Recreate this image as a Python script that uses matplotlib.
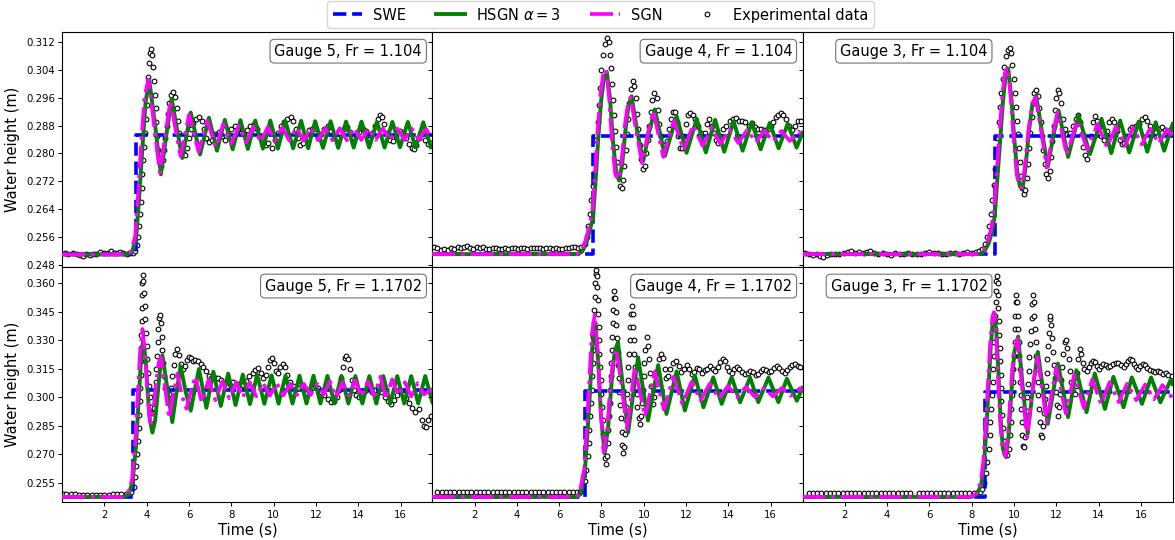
import matplotlib
matplotlib.use("Agg")
import matplotlib.pyplot as plt

plt.rcParams['font.family'] = ['DejaVu Sans']

# ---------------- data ----------------
panel_titles = ["Gauge 5, Fr = 1.104", "Gauge 4, Fr = 1.104", "Gauge 3, Fr = 1.104",
                "Gauge 5, Fr = 1.1702", "Gauge 4, Fr = 1.1702", "Gauge 3, Fr = 1.1702"]
x_ticks = [2, 4, 6, 8, 10, 12, 14, 16]
y_ticks_top = [0.248, 0.256, 0.264, 0.272, 0.280, 0.288, 0.296, 0.304, 0.312]
y_ticks_bottom = [0.255, 0.270, 0.285, 0.300, 0.315, 0.330, 0.345, 0.360]
t_end = 17.5

swe_step_time = [3.5, 7.6, 9.1, 3.36, 7.21, 8.63]
swe_h_before = [0.2509, 0.2510, 0.2510, 0.2477, 0.2477, 0.2477]
swe_h_after = [0.2853, 0.2851, 0.2849, 0.3040, 0.3033, 0.3030]

# ---- Gauge 5, Fr = 1.104 ----
g5a_hsgn = [(0.0,0.2509),(3.0,0.2509),(3.3,0.2516),(3.5,0.2555),(3.65,0.2680),(3.8,0.2820),(3.95,0.2950),(4.12,0.3012),
            (4.4,0.2880),(4.67,0.2740),(4.92,0.2850),(5.18,0.2958),(5.43,0.2870),(5.68,0.2787),(6.08,0.2918),(6.52,0.2797),
            (6.94,0.2903),(7.32,0.2808),(7.69,0.2897),(8.06,0.2812),(8.43,0.2896),(8.78,0.2813),(9.13,0.2895),(9.49,0.2814),
            (9.84,0.2895),(10.2,0.2814),(10.55,0.2894),(10.92,0.2815),(11.3,0.2894),(11.63,0.2815),(11.96,0.2893),(12.33,0.2816),
            (12.69,0.2893),(13.05,0.2816),(13.42,0.2892),(13.78,0.2817),(14.15,0.2892),(14.51,0.2817),(14.88,0.2891),(15.24,0.2817),
            (15.61,0.2891),(15.97,0.2818),(16.34,0.2891),(16.7,0.2818),(17.07,0.2890),(17.43,0.2818)]
g5a_sgn = [(0.0,0.2509),(2.95,0.2509),(3.25,0.2517),(3.45,0.2560),(3.6,0.2690),(3.75,0.2840),(3.9,0.2965),(4.08,0.3014),
           (4.35,0.2880),(4.62,0.2745),(4.87,0.2850),(5.12,0.2952),(5.36,0.2870),(5.6,0.2792),(6.0,0.2912),(6.45,0.2805),
           (6.86,0.2895),(7.26,0.2818),(7.62,0.2885),(8.0,0.2828),(8.35,0.2880),(8.7,0.2832),(9.04,0.2877),(9.38,0.2834),
           (9.72,0.2876),(10.06,0.2836),(10.4,0.2875),(10.74,0.2837),(11.08,0.2874),(11.42,0.2837),(11.76,0.2874),(12.1,0.2838),
           (12.44,0.2873),(12.78,0.2838),(13.12,0.2873),(13.46,0.2838),(13.8,0.2873),(14.14,0.2839),(14.48,0.2872),(14.82,0.2839),
           (15.16,0.2872),(15.5,0.2839),(15.84,0.2872),(16.18,0.2839),(16.52,0.2872),(16.86,0.2840),(17.2,0.2871),(17.45,0.2845)]
g5a_exp = [(0.12,0.2512),(0.3,0.2511),(0.5,0.2513),(0.7,0.2511),(0.85,0.2508),(0.98,0.2505),(1.15,0.2510),(1.3,0.2507),
           (1.45,0.2510),(1.6,0.2511),(1.8,0.2515),(2.0,0.2513),(2.15,0.2513),(2.3,0.2518),(2.45,0.2514),(2.6,0.2514),
           (2.75,0.2517),(2.9,0.2513),(3.05,0.2511),(3.2,0.2512),(3.35,0.2514),
           (3.45,0.2520),(3.52,0.2535),(3.58,0.2560),(3.63,0.2590),(3.68,0.2625),(3.72,0.2660),(3.76,0.2700),(3.80,0.2740),
           (3.84,0.2780),(3.88,0.2820),(3.92,0.2860),(3.96,0.2900),(4.00,0.2940),(4.04,0.2980),(4.08,0.3020),(4.12,0.3060),
           (4.16,0.3090),(4.21,0.3101),(4.26,0.3085),(4.30,0.3050),(4.34,0.3010),(4.38,0.2970),(4.42,0.2930),(4.46,0.2890),
           (4.50,0.2850),(4.55,0.2810),(4.61,0.2780),(4.68,0.2764),(4.76,0.2780),(4.82,0.2810),(4.88,0.2845),(4.94,0.2880),
           (5.00,0.2915),(5.07,0.2945),(5.15,0.2968),(5.25,0.2976),(5.34,0.2962),(5.41,0.2930),(5.47,0.2895),(5.53,0.2860),
           (5.60,0.2825),(5.70,0.2800),(5.82,0.2795),(5.92,0.2815),(6.0,0.2845),(6.1,0.2870),(6.2,0.2888),(6.33,0.2900),
           (6.47,0.2905),(6.6,0.2895),(6.72,0.2870),(6.82,0.2845),(6.95,0.2832),(7.1,0.2840),(7.25,0.2855),(7.4,0.2862),
           (7.55,0.2850),(7.7,0.2840),(7.85,0.2855),(8.0,0.2870),(8.15,0.2878),(8.3,0.2872),(8.45,0.2860),(8.6,0.2855),
           (8.75,0.2868),(8.9,0.2880),(9.05,0.2885),(9.2,0.2872),(9.35,0.2850),(9.5,0.2835),(9.62,0.2825),(9.75,0.2830),
           (9.9,0.2815),(10.05,0.2838),(10.2,0.2860),(10.35,0.2880),(10.5,0.2890),(10.65,0.2898),(10.8,0.2905),(10.92,0.2895),
           (11.05,0.2870),(11.15,0.2845),(11.25,0.2825),(11.38,0.2830),(11.5,0.2850),(11.65,0.2868),(11.8,0.2872),(11.95,0.2860),
           (12.1,0.2848),(12.25,0.2855),(12.4,0.2870),(12.55,0.2878),(12.7,0.2866),(12.85,0.2850),(13.0,0.2845),(13.15,0.2858),
           (13.3,0.2872),(13.45,0.2875),(13.6,0.2862),(13.75,0.2848),(13.9,0.2850),(14.05,0.2862),(14.2,0.2870),(14.35,0.2865),
           (14.5,0.2852),(14.65,0.2858),(14.8,0.2880),(14.92,0.2900),(15.02,0.2912),(15.12,0.2905),(15.22,0.2885),(15.35,0.2860),
           (15.5,0.2840),(15.65,0.2835),(15.8,0.2850),(15.95,0.2865),(16.1,0.2860),(16.25,0.2845),(16.4,0.2828),(16.52,0.2815),
           (16.62,0.2812),(16.72,0.2825),(16.85,0.2845),(17.0,0.2855),(17.15,0.2840),(17.3,0.2828),(17.42,0.2830)]

# ---- Gauge 4, Fr = 1.104 ----
g4a_hsgn = [(0.0,0.2510),(6.9,0.2510),(7.1,0.2518),(7.3,0.2545),(7.45,0.2580),(7.6,0.2614),(7.72,0.2720),(7.84,0.2837),
            (7.98,0.2950),(8.1,0.3010),(8.25,0.3035),(8.4,0.2960),(8.55,0.2830),(8.7,0.2745),(8.83,0.2722),(8.98,0.2770),
            (9.12,0.2860),(9.27,0.2935),(9.42,0.2965),(9.7,0.2860),(9.97,0.2778),(10.25,0.2860),(10.52,0.2927),(11.0,0.2793),
            (11.55,0.2908),(12.02,0.2802),(12.5,0.2900),(12.93,0.2803),(13.37,0.2897),(13.8,0.2805),(14.24,0.2893),(14.67,0.2808),
            (15.1,0.2890),(15.52,0.2812),(15.95,0.2888),(16.37,0.2815),(16.8,0.2886),(17.22,0.2817),(17.5,0.2860)]
g4a_sgn = [(0.0,0.2510),(6.85,0.2510),(7.05,0.2520),(7.25,0.2550),(7.42,0.2590),(7.58,0.2640),(7.7,0.2750),(7.82,0.2870),
           (7.95,0.2970),(8.08,0.3030),(8.22,0.3042),(8.36,0.2960),(8.5,0.2830),(8.65,0.2740),(8.8,0.2725),(8.95,0.2780),
           (9.1,0.2880),(9.25,0.2945),(9.38,0.2962),(9.65,0.2860),(9.92,0.2772),(10.2,0.2860),(10.45,0.2922),(10.92,0.2790),
           (11.42,0.2895),(11.88,0.2810),(12.33,0.2882),(12.78,0.2822),(13.2,0.2875),(13.62,0.2828),(14.05,0.2870),(14.47,0.2830),
           (14.88,0.2868),(15.3,0.2833),(15.7,0.2866),(16.1,0.2835),(16.5,0.2865),(16.9,0.2836),(17.3,0.2864),(17.5,0.2850)]
g4a_exp = [(0.1,0.2530),(0.25,0.2527),(0.4,0.2522),(0.55,0.2525),(0.75,0.2522),(0.9,0.2528),(1.05,0.2524),(1.2,0.2530),
           (1.35,0.2527),(1.5,0.2530),(1.65,0.2533),(1.8,0.2528),(1.95,0.2526),(2.1,0.2530),(2.25,0.2527),(2.4,0.2531),
           (2.55,0.2526),(2.7,0.2524),(2.85,0.2527),(3.0,0.2529),(3.15,0.2524),(3.3,0.2526),(3.45,0.2527),(3.6,0.2526),
           (3.75,0.2528),(3.9,0.2527),(4.05,0.2526),(4.2,0.2528),(4.35,0.2527),(4.5,0.2524),(4.65,0.2528),(4.8,0.2528),
           (4.95,0.2527),(5.1,0.2528),(5.25,0.2526),(5.4,0.2527),(5.55,0.2528),(5.7,0.2526),(5.85,0.2527),(6.0,0.2524),
           (6.15,0.2525),(6.3,0.2529),(6.45,0.2528),(6.6,0.2530),(6.75,0.2530),(6.9,0.2528),(7.05,0.2530),
           (7.2,0.2540),(7.3,0.2560),(7.38,0.2590),(7.45,0.2625),(7.52,0.2665),(7.58,0.2705),(7.64,0.2745),(7.7,0.2790),
           (7.76,0.2840),(7.82,0.2890),(7.88,0.2940),(7.94,0.2990),(8.0,0.3040),(8.07,0.3085),(8.15,0.3115),(8.25,0.3132),
           (8.34,0.3120),(8.4,0.3085),(8.45,0.3045),(8.5,0.3000),(8.55,0.2955),(8.6,0.2910),(8.65,0.2865),(8.7,0.2820),
           (8.75,0.2775),(8.8,0.2735),(8.87,0.2705),(8.95,0.2700),(9.02,0.2725),(9.08,0.2765),(9.14,0.2810),(9.2,0.2855),
           (9.26,0.2900),(9.32,0.2945),(9.39,0.2985),(9.47,0.3009),(9.56,0.2995),(9.62,0.2960),(9.68,0.2915),(9.74,0.2870),
           (9.8,0.2825),(9.87,0.2785),(9.96,0.2755),(10.05,0.2765),(10.12,0.2800),(10.18,0.2840),(10.25,0.2880),(10.33,0.2920),
           (10.41,0.2955),(10.5,0.2975),(10.6,0.2960),(10.67,0.2925),(10.74,0.2885),(10.81,0.2850),(10.9,0.2825),(11.0,0.2815),
           (11.1,0.2835),(11.18,0.2870),(11.27,0.2900),(11.37,0.2920),(11.47,0.2920),(11.56,0.2890),(11.63,0.2850),(11.7,0.2815),
           (11.8,0.2815),(11.9,0.2850),(12.0,0.2885),(12.1,0.2910),(12.2,0.2918),(12.32,0.2912),(12.44,0.2900),(12.56,0.2880),
           (12.68,0.2860),(12.8,0.2845),(12.9,0.2860),(13.0,0.2885),(13.1,0.2900),(13.2,0.2880),(13.3,0.2858),(13.4,0.2840),
           (13.5,0.2830),(13.62,0.2850),(13.75,0.2870),(13.9,0.2880),(14.05,0.2895),(14.2,0.2898),(14.35,0.2903),(14.5,0.2895),
           (14.65,0.2893),(14.8,0.2890),(14.95,0.2880),(15.1,0.2888),(15.25,0.2875),(15.4,0.2870),(15.55,0.2872),(15.7,0.2868),
           (15.85,0.2872),(16.0,0.2880),(16.12,0.2892),(16.24,0.2905),(16.36,0.2912),(16.48,0.2918),(16.6,0.2912),(16.72,0.2898),
           (16.85,0.2878),(17.0,0.2868),(17.15,0.2880),(17.3,0.2895),(17.42,0.2893)]

# ---- Gauge 3, Fr = 1.104 ----
g3a_hsgn = [(0.0,0.2510),(8.4,0.2510),(8.6,0.2518),(8.8,0.2540),(8.97,0.2575),(9.1,0.2624),(9.22,0.2730),(9.35,0.2837),
            (9.48,0.2950),(9.6,0.3020),(9.73,0.3045),(9.88,0.2960),(10.02,0.2840),(10.15,0.2750),(10.28,0.2705),(10.41,0.2700),
            (10.55,0.2760),(10.7,0.2860),(10.87,0.2940),(11.05,0.2967),(11.33,0.2860),(11.6,0.2762),(11.86,0.2850),(12.11,0.2924),
            (12.56,0.2790),(13.06,0.2909),(13.59,0.2798),(14.14,0.2900),(14.6,0.2801),(15.02,0.2895),(15.45,0.2803),(15.89,0.2892),
            (16.3,0.2805),(16.7,0.2890),(17.1,0.2808),(17.5,0.2885)]
g3a_sgn = [(0.0,0.2510),(8.35,0.2510),(8.55,0.2520),(8.75,0.2545),(8.93,0.2585),(9.07,0.2650),(9.2,0.2760),(9.33,0.2870),
           (9.46,0.2975),(9.58,0.3035),(9.7,0.3048),(9.85,0.2960),(10.0,0.2830),(10.13,0.2740),(10.26,0.2705),(10.38,0.2702),
           (10.52,0.2765),(10.68,0.2865),(10.85,0.2940),(11.02,0.2962),(11.3,0.2860),(11.55,0.2759),(11.82,0.2850),(12.06,0.2920),
           (12.5,0.2795),(12.98,0.2895),(13.48,0.2810),(13.95,0.2885),(14.4,0.2818),(14.82,0.2878),(15.24,0.2822),(15.64,0.2875),
           (16.04,0.2826),(16.44,0.2872),(16.84,0.2829),(17.24,0.2870),(17.5,0.2850)]
g3a_exp = [(0.12,0.2512),(0.3,0.2510),(0.5,0.2508),(0.7,0.2510),(0.85,0.2506),(0.97,0.2503),(1.15,0.2508),(1.35,0.2510),
           (1.55,0.2511),(1.75,0.2509),(1.95,0.2512),(2.15,0.2515),(2.3,0.2518),(2.5,0.2513),(2.7,0.2515),(2.9,0.2512),
           (3.05,0.2516),(3.2,0.2518),(3.4,0.2513),(3.6,0.2510),(3.8,0.2512),(4.0,0.2510),(4.2,0.2508),(4.4,0.2512),
           (4.6,0.2511),(4.8,0.2509),(5.0,0.2512),(5.2,0.2510),(5.4,0.2511),(5.6,0.2509),(5.8,0.2513),(6.0,0.2516),
           (6.2,0.2512),(6.4,0.2512),(6.6,0.2511),(6.8,0.2510),(7.0,0.2512),(7.2,0.2513),(7.4,0.2510),(7.6,0.2512),
           (7.8,0.2515),(8.0,0.2512),(8.2,0.2516),(8.35,0.2518),
           (8.5,0.2525),(8.62,0.2540),(8.72,0.2560),(8.82,0.2590),(8.9,0.2625),(8.97,0.2665),(9.04,0.2710),(9.1,0.2755),
           (9.16,0.2800),(9.22,0.2845),(9.28,0.2890),(9.34,0.2935),(9.4,0.2975),(9.47,0.3015),(9.54,0.3050),(9.62,0.3080),
           (9.7,0.3098),(9.8,0.3104),(9.88,0.3090),(9.93,0.3055),(9.98,0.3015),(10.03,0.2975),(10.08,0.2935),(10.13,0.2895),
           (10.18,0.2855),(10.23,0.2815),(10.28,0.2775),(10.33,0.2735),(10.39,0.2700),(10.46,0.2682),(10.54,0.2695),(10.6,0.2730),
           (10.66,0.2770),(10.72,0.2815),(10.78,0.2860),(10.84,0.2905),(10.9,0.2945),(10.97,0.2975),(11.05,0.2982),(11.14,0.2965),
           (11.2,0.2930),(11.26,0.2890),(11.32,0.2850),(11.38,0.2810),(11.45,0.2770),(11.53,0.2740),(11.62,0.2730),(11.7,0.2750),
           (11.76,0.2790),(11.82,0.2835),(11.88,0.2880),(11.94,0.2925),(12.0,0.2960),(12.07,0.2982),(12.15,0.2975),(12.21,0.2945),
           (12.3,0.2900),(12.4,0.2870),(12.52,0.2855),(12.65,0.2860),(12.78,0.2880),(12.92,0.2900),(13.03,0.2910),(13.12,0.2890),
           (13.2,0.2855),(13.28,0.2820),(13.36,0.2795),(13.45,0.2785),(13.55,0.2810),(13.63,0.2850),(13.72,0.2890),(13.82,0.2908),
           (13.93,0.2895),(14.03,0.2875),(14.13,0.2850),(14.25,0.2840),(14.38,0.2865),(14.5,0.2890),(14.62,0.2900),(14.75,0.2890),
           (14.87,0.2865),(15.0,0.2840),(15.12,0.2828),(15.22,0.2830),(15.35,0.2850),(15.48,0.2870),(15.6,0.2875),(15.75,0.2878),
           (15.9,0.2885),(16.05,0.2898),(16.18,0.2904),(16.3,0.2895),(16.42,0.2878),(16.55,0.2868),(16.7,0.2863),(16.85,0.2870),
           (17.0,0.2875),(17.15,0.2868),(17.3,0.2865),(17.42,0.2870)]

# ---- Gauge 5, Fr = 1.1702 ----
g5b_hsgn = [(0.0,0.2477),(2.9,0.2477),(3.15,0.2490),(3.33,0.2556),(3.49,0.2739),(3.62,0.2984),(3.72,0.3180),(3.83,0.3300),
            (3.95,0.3200),(4.05,0.3020),(4.15,0.2880),(4.27,0.2815),(4.4,0.2880),(4.52,0.3020),(4.63,0.3150),(4.74,0.3222),
            (4.97,0.3050),(5.21,0.2870),(5.4,0.3020),(5.6,0.3165),(5.84,0.3030),(6.08,0.2930),(6.27,0.3040),(6.47,0.3150),
            (6.82,0.2945),(7.15,0.3135),(7.5,0.2955),(7.85,0.3125),(8.2,0.2960),(8.54,0.3120),(8.88,0.2965),(9.22,0.3118),
            (9.56,0.2966),(9.9,0.3116),(10.23,0.2967),(10.56,0.3115),(10.89,0.2968),(11.22,0.3114),(11.55,0.2968),(11.88,0.3114),
            (12.21,0.2968),(12.54,0.3113),(12.87,0.2968),(13.2,0.3113),(13.53,0.2968),(13.86,0.3112),(14.19,0.2968),(14.52,0.3112),
            (14.85,0.2968),(15.18,0.3112),(15.51,0.2968),(15.84,0.3112),(16.17,0.2968),(16.5,0.3112),(16.83,0.2968),(17.16,0.3112),
            (17.5,0.2975)]
g5b_sgn = [(0.0,0.2477),(2.85,0.2477),(3.1,0.2492),(3.3,0.2565),(3.45,0.2760),(3.58,0.3020),(3.68,0.3230),(3.8,0.3360),
           (3.92,0.3230),(4.02,0.3050),(4.12,0.2900),(4.2,0.2864),(4.32,0.2940),(4.45,0.3080),(4.56,0.3180),(4.67,0.3213),
           (4.88,0.3040),(5.06,0.2890),(5.25,0.3010),(5.45,0.3125),(5.66,0.3010),(5.88,0.2940),(6.1,0.3040),(6.3,0.3110),
           (6.6,0.2975),(6.93,0.3095),(7.25,0.2985),(7.58,0.3085),(7.9,0.2995),(8.22,0.3080),(8.54,0.3000),(8.86,0.3080),
           (9.18,0.3005),(9.5,0.3075),(9.82,0.3008),(10.14,0.3075),(10.46,0.3010),(10.78,0.3072),(11.1,0.3012),(11.42,0.3072),
           (11.74,0.3012),(12.06,0.3070),(12.36,0.3015),(12.66,0.3085),(12.95,0.3000),(13.25,0.3080),(13.55,0.3010),(13.85,0.3090),
           (14.15,0.3005),(14.45,0.3085),(14.75,0.3010),(15.05,0.3110),(15.3,0.2990),(15.6,0.3095),(15.9,0.3010),(16.2,0.3080),
           (16.5,0.3005),(16.8,0.3075),(17.1,0.3015),(17.5,0.3045)]
g5b_exp = [(0.05,0.2494),(0.2,0.2491),(0.4,0.2490),(0.6,0.2490),(0.8,0.2489),(1.0,0.2488),(1.2,0.2489),(1.4,0.2488),
           (1.6,0.2489),(1.8,0.2488),(2.0,0.2489),(2.2,0.2488),(2.4,0.2490),(2.6,0.2492),(2.8,0.2493),(3.0,0.2490),
           (3.15,0.2493),(3.28,0.2500),
           (3.38,0.2530),(3.45,0.2580),(3.5,0.2640),(3.55,0.2700),(3.59,0.2770),(3.62,0.2840),(3.65,0.2910),(3.68,0.2980),
           (3.7,0.3050),(3.72,0.3120),(3.73,0.3190),(3.74,0.3260),(3.75,0.3330),(3.76,0.3400),(3.77,0.3470),(3.78,0.3540),
           (3.79,0.3600),(3.81,0.3645),(3.84,0.3610),(3.87,0.3550),(3.9,0.3480),(3.93,0.3410),(3.96,0.3340),(3.99,0.3270),
           (4.02,0.3200),(4.05,0.3130),(4.09,0.3060),(4.14,0.3000),(4.2,0.2950),(4.27,0.2920),(4.34,0.2945),(4.39,0.3010),
           (4.43,0.3080),(4.46,0.3150),(4.49,0.3220),(4.52,0.3290),(4.55,0.3360),(4.59,0.3420),(4.64,0.3431),(4.68,0.3390),
           (4.71,0.3320),(4.74,0.3250),(4.77,0.3180),(4.81,0.3110),(4.87,0.3050),(4.95,0.3020),(5.05,0.3018),(5.13,0.3050),
           (5.2,0.3110),(5.28,0.3170),(5.36,0.3230),(5.45,0.3256),(5.53,0.3225),(5.6,0.3175),(5.7,0.3150),(5.8,0.3165),
           (5.9,0.3195),(6.0,0.3213),(6.1,0.3205),(6.2,0.3190),(6.3,0.3195),(6.42,0.3190),(6.55,0.3175),(6.68,0.3160),
           (6.8,0.3140),(6.92,0.3115),(7.05,0.3100),(7.2,0.3105),(7.35,0.3100),(7.5,0.3090),(7.65,0.3075),(7.8,0.3060),
           (7.95,0.3070),(8.1,0.3080),(8.25,0.3070),(8.4,0.3050),(8.55,0.3065),(8.7,0.3085),(8.85,0.3110),(9.0,0.3130),
           (9.12,0.3145),(9.25,0.3152),(9.38,0.3130),(9.5,0.3100),(9.62,0.3120),(9.72,0.3160),(9.82,0.3195),(9.92,0.3205),
           (10.02,0.3180),(10.12,0.3140),(10.22,0.3130),(10.32,0.3160),(10.42,0.3175),(10.52,0.3160),(10.62,0.3120),(10.75,0.3080),
           (10.9,0.3060),(11.05,0.3045),(11.2,0.3050),(11.35,0.3060),(11.5,0.3045),(11.65,0.3035),(11.8,0.3050),(11.95,0.3060),
           (12.1,0.3050),(12.25,0.3030),(12.4,0.3010),(12.55,0.2990),(12.7,0.2975),(12.85,0.2980),(13.0,0.3000),(13.1,0.3040),
           (13.18,0.3100),(13.26,0.3160),(13.35,0.3205),(13.44,0.3218),(13.53,0.3200),(13.61,0.3150),(13.69,0.3090),(13.78,0.3040),
           (13.9,0.3010),(14.05,0.3000),(14.2,0.3025),(14.35,0.3040),(14.5,0.3045),(14.65,0.3030),(14.8,0.3040),(14.95,0.3050),
           (15.1,0.3030),(15.25,0.3000),(15.4,0.2980),(15.56,0.2966),(15.7,0.2985),(15.85,0.3010),(16.0,0.3030),(16.12,0.3020),
           (16.25,0.2995),(16.4,0.2970),(16.55,0.2945),(16.7,0.2925),(16.85,0.2940),(17.0,0.2880),(17.1,0.2850),(17.2,0.2845),
           (17.3,0.2880),(17.42,0.2900)]

# ---- Gauge 4, Fr = 1.1702 ----
g4b_hsgn = [(0.0,0.2477),(6.8,0.2477),(7.0,0.2490),(7.21,0.2600),(7.33,0.2800),(7.45,0.3018),(7.56,0.3250),(7.7,0.3392),
            (7.85,0.3180),(7.98,0.2900),(8.15,0.2704),(8.32,0.2850),(8.48,0.3080),(8.62,0.3240),(8.78,0.3290),(9.02,0.3050),
            (9.26,0.2817),(9.5,0.3020),(9.73,0.3211),(10.2,0.2878),(10.68,0.3170),(11.07,0.2913),(11.55,0.3137),(11.94,0.2931),
            (12.41,0.3115),(12.82,0.2948),(13.28,0.3105),(13.68,0.2966),(14.15,0.3106),(14.55,0.2974),(15.02,0.3105),(15.41,0.2975),
            (15.89,0.3104),(16.36,0.2975),(16.76,0.3098),(17.23,0.2982),(17.5,0.3050)]
g4b_sgn = [(0.0,0.2477),(6.75,0.2477),(6.95,0.2492),(7.18,0.2620),(7.3,0.2840),(7.42,0.3080),(7.54,0.3330),(7.68,0.3436),
           (7.82,0.3250),(7.95,0.2950),(8.1,0.2712),(8.28,0.2840),(8.42,0.3070),(8.56,0.3210),(8.7,0.3255),(8.95,0.3060),
           (9.2,0.2834),(9.4,0.3000),(9.57,0.3161),(10.05,0.2900),(10.52,0.3136),(10.95,0.2935),(11.4,0.3108),(11.82,0.2966),
           (12.26,0.3082),(12.68,0.2984),(13.12,0.3073),(13.55,0.2993),(13.98,0.3060),(14.4,0.3001),(14.83,0.3056),(15.25,0.3002),
           (15.68,0.3050),(16.1,0.3005),(16.52,0.3050),(16.95,0.3008),(17.38,0.3048),(17.5,0.3035)]
g4b_exp = [(0.25,0.2500),(0.45,0.2500),(0.65,0.2500),(0.85,0.2500),(1.05,0.2500),(1.25,0.2500),(1.45,0.2500),(1.65,0.2500),
           (1.85,0.2500),(2.05,0.2500),(2.25,0.2500),(2.45,0.2502),(2.65,0.2500),(2.85,0.2500),(3.05,0.2500),(3.25,0.2500),
           (3.45,0.2500),(3.65,0.2500),(3.85,0.2500),(4.05,0.2500),(4.25,0.2500),(4.45,0.2500),(4.65,0.2500),(4.85,0.2500),
           (5.05,0.2502),(5.25,0.2500),(5.45,0.2500),(5.65,0.2500),(5.85,0.2500),(6.05,0.2500),(6.25,0.2502),(6.45,0.2500),
           (6.65,0.2500),(6.85,0.2502),(7.0,0.2505),
           (7.1,0.2520),(7.2,0.2560),(7.28,0.2620),(7.34,0.2690),(7.39,0.2760),(7.43,0.2830),(7.47,0.2900),(7.5,0.2970),
           (7.53,0.3040),(7.56,0.3110),(7.58,0.3180),(7.6,0.3250),(7.62,0.3320),(7.64,0.3390),(7.66,0.3460),(7.68,0.3530),
           (7.7,0.3600),(7.72,0.3650),(7.75,0.3672),(7.78,0.3640),(7.8,0.3580),(7.82,0.3510),(7.84,0.3440),(7.86,0.3370),
           (7.88,0.3300),(7.9,0.3230),(7.93,0.3160),(7.96,0.3090),(7.99,0.3020),(8.02,0.2950),(8.05,0.2880),(8.08,0.2810),
           (8.12,0.2740),(8.16,0.2680),(8.21,0.2652),(8.26,0.2690),(8.29,0.2760),(8.32,0.2830),(8.35,0.2900),(8.38,0.2970),
           (8.41,0.3040),(8.44,0.3110),(8.47,0.3180),(8.5,0.3250),(8.52,0.3320),(8.54,0.3390),(8.56,0.3460),(8.58,0.3520),
           (8.61,0.3558),(8.64,0.3520),(8.67,0.3450),(8.7,0.3380),(8.73,0.3310),(8.76,0.3240),(8.79,0.3170),(8.82,0.3100),
           (8.85,0.3030),(8.88,0.2960),(8.91,0.2890),(8.95,0.2820),(8.99,0.2750),(9.03,0.2707),(9.08,0.2740),(9.12,0.2810),
           (9.15,0.2880),(9.18,0.2950),(9.21,0.3020),(9.24,0.3090),(9.27,0.3160),(9.3,0.3230),(9.33,0.3300),(9.36,0.3370),
           (9.39,0.3440),(9.43,0.3478),(9.47,0.3440),(9.5,0.3370),(9.53,0.3300),(9.56,0.3230),(9.59,0.3160),(9.62,0.3090),
           (9.66,0.3020),(9.7,0.2950),(9.75,0.2890),(9.81,0.2861),(9.87,0.2900),(9.91,0.2970),(9.95,0.3040),(9.99,0.3110),
           (10.03,0.3180),(10.07,0.3250),(10.13,0.3316),(10.19,0.3270),(10.23,0.3200),(10.27,0.3130),(10.32,0.3060),(10.38,0.3000),
           (10.44,0.2966),(10.5,0.3000),(10.56,0.3070),(10.62,0.3140),(10.7,0.3200),(10.8,0.3230),(10.9,0.3205),(10.98,0.3150),
           (11.07,0.3100),(11.16,0.3110),(11.26,0.3150),(11.38,0.3180),(11.52,0.3190),(11.65,0.3165),(11.77,0.3135),(11.9,0.3150),
           (12.02,0.3170),(12.14,0.3150),(12.26,0.3122),(12.38,0.3135),(12.5,0.3157),(12.62,0.3150),(12.75,0.3130),(12.88,0.3145),
           (13.0,0.3150),(13.12,0.3165),(13.25,0.3150),(13.38,0.3140),(13.5,0.3160),(13.62,0.3185),(13.72,0.3203),(13.82,0.3190),
           (13.92,0.3160),(14.02,0.3140),(14.15,0.3130),(14.28,0.3150),(14.4,0.3161),(14.52,0.3150),(14.65,0.3135),(14.78,0.3125),
           (14.9,0.3130),(15.02,0.3140),(15.15,0.3132),(15.28,0.3120),(15.4,0.3125),(15.52,0.3140),(15.65,0.3150),(15.78,0.3145),
           (15.9,0.3135),(16.02,0.3140),(16.15,0.3155),(16.28,0.3166),(16.4,0.3155),(16.52,0.3140),(16.65,0.3130),(16.78,0.3145),
           (16.9,0.3160),(17.02,0.3170),(17.15,0.3175),(17.28,0.3165),(17.4,0.3160)]

# ---- Gauge 3, Fr = 1.1702 ----
g3b_hsgn = [(0.0,0.2477),(8.0,0.2477),(8.25,0.2490),(8.45,0.2540),(8.58,0.2640),(8.7,0.2830),(8.8,0.3050),(8.9,0.3260),
            (9.0,0.3400),(9.07,0.3445),(9.17,0.3350),(9.27,0.3120),(9.37,0.2890),(9.48,0.2730),(9.62,0.2686),(9.75,0.2800),
            (9.88,0.3030),(10.02,0.3240),(10.2,0.3320),(10.42,0.3050),(10.65,0.2809),(10.9,0.3050),(11.13,0.3239),(11.6,0.2861),
            (12.08,0.3178),(12.56,0.2896),(12.95,0.3143),(13.43,0.2922),(13.82,0.3126),(14.3,0.2939),(14.7,0.3108),(15.18,0.2948),
            (15.57,0.3105),(16.05,0.2966),(16.48,0.3105),(16.92,0.2974),(17.4,0.3090),(17.5,0.3070)]
g3b_sgn = [(0.0,0.2477),(7.95,0.2477),(8.2,0.2492),(8.42,0.2550),(8.55,0.2660),(8.67,0.2860),(8.78,0.3090),(8.88,0.3290),
           (8.98,0.3420),(9.05,0.3448),(9.15,0.3340),(9.25,0.3100),(9.35,0.2870),(9.46,0.2720),(9.6,0.2690),(9.72,0.2810),
           (9.85,0.3040),(9.98,0.3230),(10.17,0.3309),(10.4,0.3030),(10.62,0.2790),(10.87,0.3030),(11.1,0.3222),(11.55,0.2870),
           (12.0,0.3160),(12.45,0.2915),(12.85,0.3120),(13.3,0.2945),(13.7,0.3095),(14.12,0.2965),(14.52,0.3080),(14.95,0.2975),
           (15.35,0.3072),(15.78,0.2985),(16.2,0.3068),(16.62,0.2990),(17.02,0.3065),(17.5,0.2995)]
g3b_exp = [(0.3,0.2495),(0.5,0.2495),(0.7,0.2495),(0.9,0.2495),(1.1,0.2495),(1.3,0.2495),(1.5,0.2495),(1.7,0.2495),
           (1.9,0.2495),(2.1,0.2495),(2.3,0.2495),(2.5,0.2495),(2.7,0.2495),(2.9,0.2495),(3.1,0.2495),(3.3,0.2495),
           (3.5,0.2495),(3.7,0.2495),(3.9,0.2495),(4.1,0.2495),(4.3,0.2495),(4.5,0.2495),(4.7,0.2495),(4.9,0.2495),
           (5.1,0.2495),(5.5,0.2495),(5.7,0.2495),(5.9,0.2495),(6.1,0.2495),(6.3,0.2495),(6.5,0.2495),(6.7,0.2495),
           (6.9,0.2495),(7.1,0.2495),(7.3,0.2495),(7.5,0.2495),(7.7,0.2495),(7.9,0.2497),(8.1,0.2497),(8.28,0.2500),
           (8.4,0.2505),(8.5,0.2520),(8.6,0.2550),(8.68,0.2600),(8.75,0.2660),(8.8,0.2730),(8.85,0.2800),(8.89,0.2870),
           (8.93,0.2940),(8.96,0.3010),(8.99,0.3080),(9.02,0.3150),(9.05,0.3220),(9.07,0.3290),(9.09,0.3360),(9.11,0.3430),
           (9.13,0.3500),(9.15,0.3560),(9.17,0.3610),(9.2,0.3637),(9.23,0.3600),(9.25,0.3540),(9.27,0.3470),(9.29,0.3400),
           (9.31,0.3330),(9.33,0.3260),(9.35,0.3190),(9.37,0.3120),(9.39,0.3050),(9.41,0.2980),(9.44,0.2910),(9.48,0.2840),
           (9.53,0.2770),(9.6,0.2710),(9.68,0.2695),(9.75,0.2730),(9.8,0.2800),(9.84,0.2870),(9.88,0.2940),(9.91,0.3010),
           (9.94,0.3080),(9.97,0.3150),(10.0,0.3220),(10.03,0.3290),(10.05,0.3360),(10.07,0.3430),(10.09,0.3500),(10.11,0.3536),
           (10.14,0.3500),(10.17,0.3430),(10.2,0.3360),(10.23,0.3290),(10.26,0.3220),(10.28,0.3150),(10.3,0.3080),(10.32,0.3010),
           (10.34,0.2940),(10.36,0.2870),(10.39,0.2800),(10.43,0.2745),(10.48,0.2739),(10.53,0.2790),(10.57,0.2860),(10.61,0.2930),
           (10.64,0.3000),(10.67,0.3070),(10.7,0.3140),(10.73,0.3210),(10.76,0.3280),(10.8,0.3350),(10.84,0.3420),(10.87,0.3490),
           (10.9,0.3536),(10.94,0.3500),(10.97,0.3430),(11.0,0.3360),(11.03,0.3290),(11.06,0.3220),(11.09,0.3150),(11.12,0.3080),
           (11.15,0.3010),(11.19,0.2940),(11.23,0.2870),(11.28,0.2800),(11.33,0.2791),(11.38,0.2850),(11.42,0.2920),(11.46,0.2990),
           (11.5,0.3060),(11.54,0.3130),(11.58,0.3200),(11.62,0.3270),(11.65,0.3340),(11.69,0.3410),(11.72,0.3427),(11.76,0.3380),
           (11.8,0.3310),(11.84,0.3240),(11.88,0.3170),(11.92,0.3100),(11.97,0.3030),(12.02,0.2960),(12.08,0.2904),(12.14,0.2950),
           (12.19,0.3020),(12.24,0.3090),(12.29,0.3160),(12.34,0.3230),(12.4,0.3290),(12.46,0.3300),(12.52,0.3260),(12.58,0.3200),
           (12.64,0.3140),(12.7,0.3080),(12.78,0.3030),(12.87,0.3018),(12.95,0.3060),(13.0,0.3130),(13.05,0.3200),(13.11,0.3256),
           (13.18,0.3230),(13.25,0.3180),(13.33,0.3150),(13.43,0.3140),(13.53,0.3160),(13.63,0.3180),(13.73,0.3192),(13.83,0.3185),
           (13.93,0.3165),(14.03,0.3150),(14.13,0.3165),(14.23,0.3175),(14.33,0.3170),(14.43,0.3160),(14.55,0.3165),(14.68,0.3175),
           (14.8,0.3180),(14.94,0.3183),(15.06,0.3170),(15.18,0.3160),(15.3,0.3175),(15.4,0.3192),(15.49,0.3201),(15.58,0.3195),
           (15.68,0.3175),(15.78,0.3160),(15.88,0.3150),(15.98,0.3165),(16.08,0.3175),(16.18,0.3170),(16.3,0.3155),(16.42,0.3145),
           (16.55,0.3140),(16.68,0.3135),(16.8,0.3140),(16.92,0.3135),(17.05,0.3125),(17.18,0.3130),(17.3,0.3120),(17.45,0.3114)]

hsgn_series = [g5a_hsgn, g4a_hsgn, g3a_hsgn, g5b_hsgn, g4b_hsgn, g3b_hsgn]
sgn_series = [g5a_sgn, g4a_sgn, g3a_sgn, g5b_sgn, g4b_sgn, g3b_sgn]
exp_series = [g5a_exp, g4a_exp, g3a_exp, g5b_exp, g4b_exp, g3b_exp]

# ---------------- figure ----------------
fig, axes = plt.subplots(2, 3, figsize=(11.75, 5.4), dpi=100, sharex=True, sharey='row')
fig.subplots_adjust(left=0.053, right=0.998, top=0.940, bottom=0.070, wspace=0, hspace=0)

for i, ax in enumerate(axes.flat):
    t0 = swe_step_time[i]
    swe_t = [0.0, t0, t0, t_end]
    swe_h = [swe_h_before[i], swe_h_before[i], swe_h_after[i], swe_h_after[i]]
    ax.plot(swe_t, swe_h, color='blue', ls='--', lw=2.6, label='SWE', zorder=3)
    ht, hh = zip(*hsgn_series[i])
    ax.plot(ht, hh, color='green', ls='-', lw=2.8, label=r'HSGN $\alpha = 3$', zorder=4)
    st, sh = zip(*sgn_series[i])
    ax.plot(st, sh, color='magenta', ls='-.', lw=2.6, label='SGN', zorder=5)
    et, eh = zip(*exp_series[i])
    ax.plot(et, eh, ls='none', marker='o', ms=3.4, mfc='white', mec='black', mew=0.8,
            label='Experimental data', zorder=2)
    if i % 3 == 2:
        tx = 0.5
    else:
        tx = 0.972
    ax.text(tx, 0.952, panel_titles[i], transform=ax.transAxes, ha='right', va='top', fontsize=10.5,
            bbox=dict(boxstyle='round,pad=0.3', facecolor='white', edgecolor='0.45', lw=0.8), zorder=10)
    ax.tick_params(labelsize=7.3, length=2.9, width=0.7, pad=2.4)
    for sp in ax.spines.values():
        sp.set_linewidth(0.8)

axes[0, 0].set_xlim(0.01, t_end)
axes[0, 0].set_xticks(x_ticks)
axes[0, 0].set_ylim(0.2472, 0.3149)
axes[0, 0].set_yticks(y_ticks_top)
axes[1, 0].set_ylim(0.2449, 0.3684)
axes[1, 0].set_yticks(y_ticks_bottom)
for ax in axes[:, 0]:
    ax.yaxis.set_major_formatter(matplotlib.ticker.FormatStrFormatter('%.3f'))
    ax.set_ylabel('Water height (m)', fontsize=10.5)
for ax in axes[1, :]:
    ax.set_xlabel('Time (s)', fontsize=10.5, labelpad=2)

handles, labels = axes[0, 0].get_legend_handles_labels()
fig.legend(handles, labels, loc='upper center', bbox_to_anchor=(0.511, 1.0), ncol=4,
           fontsize=10.5, borderaxespad=0.05)

fig.savefig('out.png', dpi=100)
